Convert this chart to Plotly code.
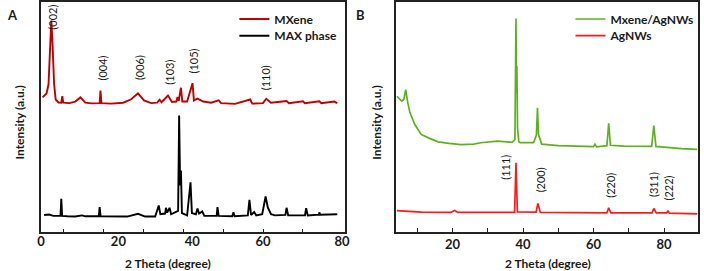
import plotly.graph_objects as go

# ---------------- Panel A data (2 theta in degrees, intensity a.u.) ----------------
mxene_x = [4.8, 5.8, 6.3, 6.7, 7.0, 7.35, 7.7, 8.1, 8.8, 9.5, 9.75, 10.0, 11.5, 13.0, 14.3,
           15.5, 17.0, 19.1, 19.3, 19.55, 22.0, 25.0, 27.0, 28.7, 30.2, 32.0, 33.5, 34.1,
           34.6, 36.2, 37.2, 38.3, 38.6, 38.9, 39.45, 39.8, 41.0, 42.35, 42.7, 43.6, 45.0,
           47.0, 48.9, 49.5, 53.0, 56.8, 57.3, 60.0, 60.8, 62.0, 65.9, 66.5, 70.0, 70.5,
           74.1, 74.6, 77.8, 78.6]
mxene_y = [58.3, 60.0, 64.0, 80.0, 91.7, 80.0, 64.0, 57.4, 56.1, 56.0, 58.8, 56.0, 55.8, 56.5,
           58.3, 56.0, 55.7, 55.8, 61.3, 55.8, 55.6, 56.0, 57.5, 60.1, 57.0, 55.8, 56.0, 57.3,
           56.2, 59.1, 56.3, 56.5, 58.5, 56.8, 62.5, 56.5, 56.5, 64.5, 57.0, 57.8, 56.5,
           56.0, 57.0, 55.8, 55.5, 57.4, 55.6, 55.8, 57.7, 56.0, 56.7, 55.8, 56.6, 55.8,
           56.6, 55.8, 56.5, 55.8]

max_x = [5.2, 6.5, 7.5, 9.3, 9.5, 9.7, 11.0, 13.0, 14.7, 15.5, 18.9, 19.1, 19.35, 22.0, 26.0,
         28.7, 30.5, 33.0, 33.9, 34.3, 35.5, 35.7, 36.0, 36.6, 37.0, 38.75, 39.0, 39.25,
         39.45, 39.7, 41.0, 41.85, 42.2, 43.2, 43.6, 44.0, 44.8, 45.3, 48.4, 48.6, 48.9,
         52.3, 52.6, 52.9, 56.2, 56.6, 57.0, 57.8, 58.3, 59.8, 60.65, 61.2, 62.0, 63.0,
         65.6, 65.9, 66.3, 70.5, 70.8, 71.2, 74.0, 74.1, 74.3, 78.6]
max_y = [7.2, 7.4, 6.8, 6.8, 14.2, 6.8, 6.6, 6.5, 7.0, 6.6, 6.6, 10.6, 6.6, 6.5, 6.5,
         7.7, 6.5, 6.5, 11.3, 7.5, 7.8, 10.3, 8.2, 10.3, 7.5, 9.0, 50.4, 20.0,
         26.5, 8.0, 7.0, 21.4, 8.0, 7.5, 10.0, 7.8, 8.7, 6.8, 6.8, 10.6, 6.8,
         6.6, 8.4, 6.6, 7.0, 13.8, 7.2, 8.5, 7.0, 7.5, 15.2, 10.5, 7.5, 7.0,
         7.2, 10.3, 7.0, 7.0, 10.1, 7.0, 7.3, 8.3, 7.3, 7.5]

# ---------------- Panel B data ----------------
composite_x = [4.2, 5.6, 6.2, 6.7, 7.3, 7.9, 9.3, 11.1, 13.5, 15.9, 19.0, 22.4, 26.0, 28.0,
               32.7, 35.5, 36.9, 37.7, 38.0, 38.15, 38.25, 38.45, 38.8, 39.2, 43.0, 43.8,
               44.1, 44.4, 45.3, 50.0, 55.0, 60.0, 60.4, 60.9, 63.8, 64.3, 64.8, 68.7,
               76.5, 77.1, 77.7, 81.0, 85.0, 89.4]
composite_y = [58.8, 56.7, 57.5, 61.7, 56.0, 51.7, 46.5, 42.2, 40.5, 39.0, 38.3, 37.8, 38.0,
               38.6, 39.3, 39.0, 38.8, 40.0, 92.6, 60.0, 71.9, 45.0, 39.0, 38.6, 38.6, 42.0,
               53.8, 42.0, 38.0, 37.3, 37.0, 36.9, 38.0, 36.8, 37.3, 47.0, 37.5, 37.1,
               37.0, 46.1, 37.0, 36.5, 36.0, 35.7]

agnw_x = [4.2, 7.0, 11.1, 19.5, 20.6, 21.5, 37.6, 38.0, 38.4, 43.7, 44.2, 44.9, 63.8, 64.3,
          64.9, 76.6, 77.1, 77.8, 80.8, 81.1, 81.5, 89.4]
agnw_y = [9.1, 8.8, 8.4, 8.3, 9.1, 8.3, 8.3, 29.9, 8.5, 8.4, 12.2, 8.3, 8.1, 10.3,
          8.1, 8.1, 10.0, 8.1, 8.1, 9.1, 8.0, 7.7]

# ---------------- Labels ----------------
a_peak_labels = ["(002)", "(004)", "(006)", "(103)", "(105)", "(110)"]
a_peak_x = [7.3, 19.7, 29.1, 36.6, 42.7, 60.7]
a_peak_y = [93.2, 70.9, 71.3, 69.3, 74.3, 67.0]
b_peak_labels = ["(111)", "(200)", "(220)", "(311)", "(222)"]
b_peak_x = [34.95, 45.2, 64.6, 77.0, 81.4]
b_peak_y = [27.8, 22.4, 20.2, 20.4, 19.1]

a_tick_text = ["0", "20", "40", "60", "80"]
a_tick_vals = [4.4, 23.8, 42.3, 60.0, 79.8]
a_mark_vals = [10, 20, 30, 40, 50, 60, 70]
b_tick_vals = [10, 20, 30, 40, 50, 60, 70, 80]
b_tick_text = ["", "20", "", "40", "", "60", "", "80"]

W, H = 704, 271
FONT = "Lato"
TXT = "#1a1a1a"

fig = go.Figure()
fig.add_trace(go.Scatter(x=mxene_x, y=mxene_y, mode="lines", name="MXene",
                         line=dict(color="#c00000", width=1.9), xaxis="x", yaxis="y",
                         legend="legend", showlegend=True))
fig.add_trace(go.Scatter(x=max_x, y=max_y, mode="lines", name="MAX phase",
                         line=dict(color="#000000", width=1.9), xaxis="x", yaxis="y",
                         legend="legend3", showlegend=True))
fig.add_trace(go.Scatter(x=composite_x, y=composite_y, mode="lines", name="Mxene/AgNWs",
                         line=dict(color="#5cb21e", width=1.7), xaxis="x2", yaxis="y2",
                         legend="legend2", showlegend=True))
fig.add_trace(go.Scatter(x=agnw_x, y=agnw_y, mode="lines", name="AgNWs",
                         line=dict(color="#ff1a1a", width=1.7), xaxis="x2", yaxis="y2",
                         legend="legend4", showlegend=True))
# carrier for the tick-label axis of panel A
fig.add_trace(go.Scatter(x=[], y=[], mode="lines", xaxis="x3", yaxis="y",
                         showlegend=False, hoverinfo="skip"))

ydom = [(H - 231.5) / H, (H - 1.5) / H]
axis_common = dict(showline=True, mirror=True, linecolor="#222222", linewidth=1.5,
                   showgrid=False, zeroline=False)
tickfont = dict(family=FONT, size=13, color=TXT, weight="bold")

annotations = []
for t, x, y in zip(a_peak_labels, a_peak_x, a_peak_y):
    annotations.append(dict(text=t, x=x, y=y, xref="x", yref="y", showarrow=False,
                            textangle=-90, xanchor="center", yanchor="middle",
                            font=dict(family=FONT, size=11, color=TXT)))
for t, x, y in zip(b_peak_labels, b_peak_x, b_peak_y):
    annotations.append(dict(text=t, x=x, y=y, xref="x2", yref="y2", showarrow=False,
                            textangle=-90, xanchor="center", yanchor="middle",
                            font=dict(family=FONT, size=11, color=TXT)))

title_font = dict(family=FONT, size=12, color=TXT, weight="bold")
for cx in (166.7, 551):
    annotations.append(dict(text="2 Theta (degree)", x=cx / W, y=(H - 263) / H,
                            xref="paper", yref="paper", showarrow=False,
                            xanchor="center", yanchor="middle", font=title_font))
for cx in (16.7, 378):
    annotations.append(dict(text="Intensity (a.u.)", x=cx / W, y=(H - 123) / H,
                            xref="paper", yref="paper", showarrow=False, textangle=-90,
                            xanchor="center", yanchor="middle", font=title_font))
for t, cx in (("A", 10), ("B", 362)):
    annotations.append(dict(text=t, x=cx / W, y=(H - 15) / H, xref="paper", yref="paper",
                            showarrow=False, xanchor="center", yanchor="middle",
                            font=dict(family=FONT, size=13, color=TXT, weight="bold")))

legend_font = dict(family=FONT, size=12, color=TXT, weight="bold")


def leg(xpx, ycpx):
    return dict(visible=True, x=xpx / W, y=(H - ycpx) / H, xanchor="left",
                yanchor="middle", bgcolor="rgba(0,0,0,0)", font=legend_font,
                tracegroupgap=0)


fig.update_layout(
    width=W, height=H,
    showlegend=True,
    margin=dict(l=0, r=0, t=0, b=0),
    paper_bgcolor="white", plot_bgcolor="white",
    xaxis=dict(domain=[38 / W, 345.7 / W], range=[4.31, 80.47], anchor="y",
               tickmode="array", tickvals=a_mark_vals,
               ticktext=[""] * len(a_mark_vals), ticks="inside", ticklen=3,
               tickcolor="#222222", tickwidth=1,
               **axis_common),
    xaxis3=dict(overlaying="x", matches="x", anchor="y", side="bottom",
                tickmode="array", tickvals=a_tick_vals, ticktext=a_tick_text, ticks="",
                tickfont=tickfont, showline=False, showgrid=False, zeroline=False),
    yaxis=dict(domain=ydom, range=[0, 100], anchor="x", showticklabels=False, ticks="",
               **axis_common),
    xaxis2=dict(domain=[397.7 / W, 702.7 / W], range=[4.01, 89.56], anchor="y2",
                tickmode="array", tickvals=b_tick_vals, ticktext=b_tick_text,
                ticks="inside", ticklen=3.5, tickcolor="#222222", tickwidth=1,
                tickfont=tickfont,
                **axis_common),
    yaxis2=dict(domain=ydom, range=[0, 100], anchor="x2", showticklabels=False, ticks="",
                **axis_common),
    legend=leg(234, 19),
    legend3=leg(234, 35.7),
    legend2=leg(574, 19),
    legend4=leg(574, 35.7),
    annotations=annotations,
)

fig.write_html("out.html", config={"displayModeBar": False},
               post_script="document.body.style.margin='0';")
